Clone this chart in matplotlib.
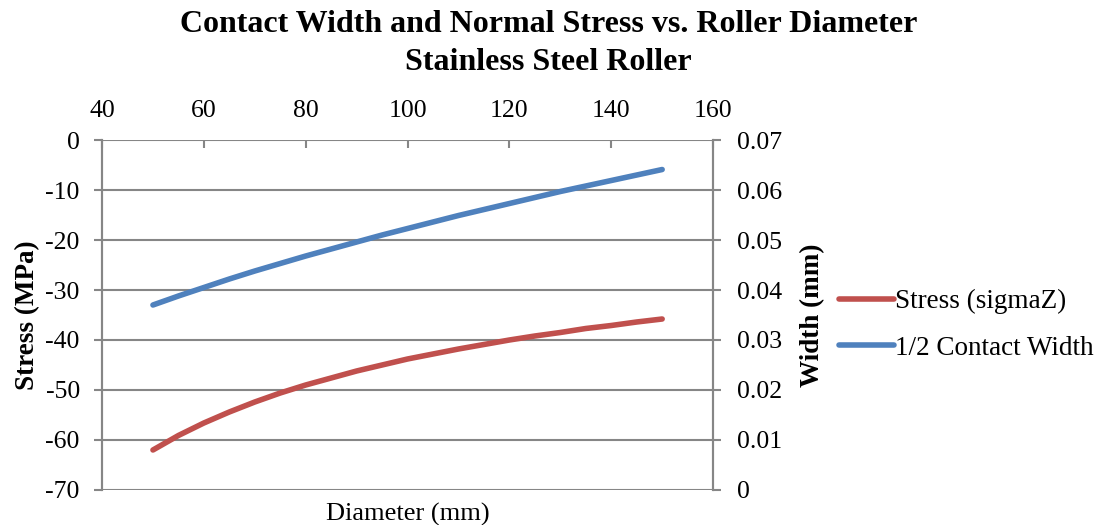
import matplotlib.pyplot as plt
import numpy as np

plt.rcParams['font.family'] = ['Liberation Serif', 'DejaVu Serif']
plt.rcParams['axes.unicode_minus'] = False

diameter = [50, 55, 60, 65, 70, 75, 80, 85, 90, 95, 100,
            105, 110, 115, 120, 125, 130, 135, 140, 145, 150]
stress = [-62.0, -59.1, -56.6, -54.4, -52.4, -50.6, -49.0, -47.6, -46.2, -45.0, -43.8,
          -42.8, -41.8, -40.9, -40.0, -39.2, -38.5, -37.7, -37.1, -36.4, -35.8]
width = [0.0370, 0.0388, 0.0405, 0.0422, 0.0438, 0.0453, 0.0468, 0.0482, 0.0496, 0.0510, 0.0523,
         0.0536, 0.0549, 0.0561, 0.0573, 0.0585, 0.0597, 0.0608, 0.0619, 0.0630, 0.0641]

red = '#C0504D'
blue = '#4F81BD'
gray = '#868686'

fig = plt.figure(figsize=(11.03, 5.25), dpi=100)
ax = fig.add_axes([0.0925, 0.0667, 0.554, 0.6666])
ax2 = ax.twinx()

l1, = ax.plot(diameter, stress, color=red, lw=4, solid_capstyle='round', label='Stress (sigmaZ)')
l2, = ax2.plot(diameter, width, color=blue, lw=4, solid_capstyle='round', label='1/2 Contact Width')

ax.set_xlim(40, 160)
ax.set_xticks(np.arange(40, 161, 20))
ax.set_ylim(-70, 0)
ax.set_yticks(np.arange(-70, 1, 10))
ax2.set_ylim(0, 0.07)
ax2.set_yticks(np.arange(0, 0.071, 0.01))
ax2.set_yticklabels(['0', '0.01', '0.02', '0.03', '0.04', '0.05', '0.06', '0.07'])

ax.xaxis.tick_top()
ax.tick_params(axis='x', direction='in', length=6, width=1.5, color=gray, labelsize=18.5, pad=13)
ax.tick_params(axis='y', direction='out', length=6, width=1.5, color=gray, labelsize=18.5, pad=10)
ax2.tick_params(axis='y', direction='out', length=6, width=1.5, color=gray, labelsize=18.5, pad=11)

ax.grid(axis='y', color=gray, lw=1.5)
ax.set_axisbelow(True)
for a in (ax, ax2):
    for s in a.spines.values():
        s.set_visible(False)
    a.spines['left'].set_visible(True)
    a.spines['right'].set_visible(True)
    a.spines['left'].set_color(gray)
    a.spines['right'].set_color(gray)
    a.spines['left'].set_linewidth(1.5)
    a.spines['right'].set_linewidth(1.5)

ax.set_xlabel('Diameter (mm)', fontsize=19, labelpad=9)
ax.set_ylabel('Stress (MPa)', fontsize=19.5, fontweight='bold', labelpad=4)
ax2.set_ylabel('Width (mm)', fontsize=19.5, fontweight='bold', labelpad=13)

fig.text(0.497, 1 - 25 / 525, 'Contact Width and Normal Stress vs. Roller Diameter',
         fontsize=23, fontweight='bold', ha='center', va='center')
fig.text(0.497, 1 - 62 / 525, 'Stainless Steel Roller',
         fontsize=23, fontweight='bold', ha='center', va='center')

fig.legend(handles=[l1, l2], loc='center left', bbox_to_anchor=(0.739, 0.381),
           frameon=False, fontsize=19.5, handlelength=2.0, handletextpad=0.05, labelspacing=0.8)

fig.savefig('out.png', dpi=100)
